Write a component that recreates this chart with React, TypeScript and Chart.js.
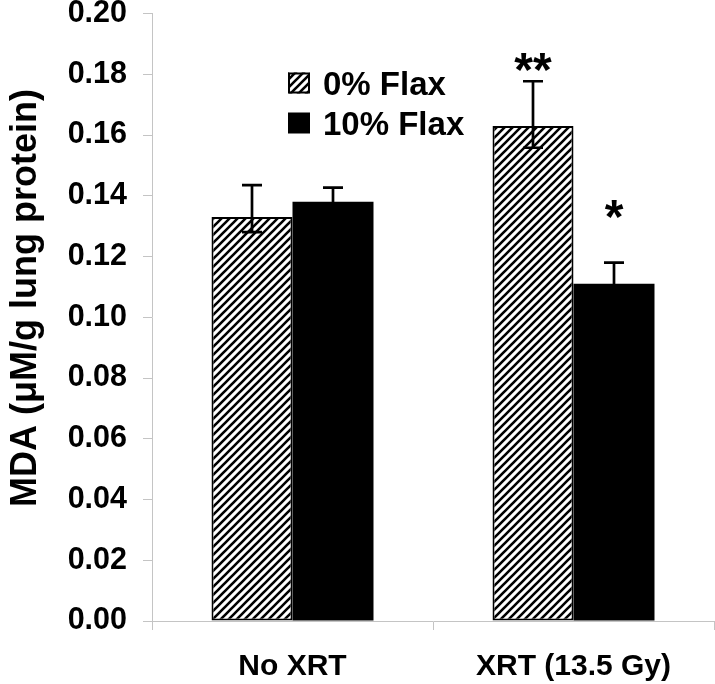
import React, { useEffect, useRef } from "react";
import { Chart, registerables } from "chart.js";

Chart.register(...registerables);

const categories = ["No XRT", "XRT (13.5 Gy)"];
const seriesNames = ["0% Flax", "10% Flax"];
const flax0Values = [0.133, 0.163];
const flax10Values = [0.138, 0.111];
const flax0ErrUp = [0.0105, 0.0147];
const flax0ErrDown = [0.005, 0.0072];
const flax10ErrUp = [0.0047, 0.007];
const flax10ErrDown = [0.0047, 0.007];
const flax0Marks = ["", "**"];
const flax10Marks = ["", "*"];
const flax0MarkAt = [0, 0.184];
const flax10MarkAt = [0, 0.1355];
const yTickValues = [0, 0.02, 0.04, 0.06, 0.08, 0.1, 0.12, 0.14, 0.16, 0.18, 0.2];
const yAxisTitle = "MDA (\u03bcM/g lung protein)";

const FONT = "'Liberation Sans', Arial, sans-serif";
const AXIS_GRAY = "#c4c4c4";

function makeHatch(): CanvasPattern | string {
  const c = document.createElement("canvas");
  const s = 8;
  c.width = s;
  c.height = s;
  const g = c.getContext("2d");
  if (!g) return "#888";
  g.fillStyle = "#fff";
  g.fillRect(0, 0, s, s);
  g.strokeStyle = "#000";
  g.lineWidth = 2.6;
  g.beginPath();
  g.moveTo(-2, s + 2);
  g.lineTo(s + 2, -2);
  g.moveTo(-2, 2);
  g.lineTo(2, -2);
  g.moveTo(s - 2, s + 2);
  g.lineTo(s + 2, s - 2);
  g.stroke();
  return g.createPattern(c, "repeat") || "#888";
}

function drawCenteredText(ctx: CanvasRenderingContext2D, text: string, cx: number, cy: number) {
  const m = ctx.measureText(text);
  const asc = m.actualBoundingBoxAscent;
  const desc = m.actualBoundingBoxDescent;
  ctx.textBaseline = "alphabetic";
  ctx.textAlign = "center";
  ctx.fillText(text, cx, cy + (asc - desc) / 2);
}

export default function App() {
  const ref = useRef<HTMLCanvasElement | null>(null);

  useEffect(() => {
    document.body.style.margin = "0";
    const canvas = ref.current;
    if (!canvas) return;
    const hatch = makeHatch();

    const overlay = {
      id: "overlay",
      afterDatasetsDraw(chart: any) {
        const ctx: CanvasRenderingContext2D = chart.ctx;
        const y = chart.scales.y;
        const sets: [number[], number[], number[], string[], number[]][] = [
          [flax0Values, flax0ErrUp, flax0ErrDown, flax0Marks, flax0MarkAt],
          [flax10Values, flax10ErrUp, flax10ErrDown, flax10Marks, flax10MarkAt],
        ];
        ctx.save();
        ctx.strokeStyle = "#000";
        ctx.fillStyle = "#000";
        ctx.lineWidth = 2.7;
        sets.forEach(([vals, up, down, marks, markAt], di) => {
          const meta = chart.getDatasetMeta(di);
          meta.data.forEach((bar: any, i: number) => {
            const x = bar.x;
            const yTop = y.getPixelForValue(vals[i] + up[i]);
            const yBot = y.getPixelForValue(vals[i] - down[i]);
            ctx.beginPath();
            ctx.moveTo(x, yTop);
            ctx.lineTo(x, yBot);
            ctx.moveTo(x - 10, yTop);
            ctx.lineTo(x + 10, yTop);
            ctx.moveTo(x - 10, yBot);
            ctx.lineTo(x + 10, yBot);
            ctx.stroke();
            if (marks[i]) {
              ctx.font = `bold 48px ${FONT}`;
              drawCenteredText(ctx, marks[i], x, y.getPixelForValue(markAt[i]));
            }
          });
        });
        // legend
        const lx = 288;
        const rows = [83, 123];
        ctx.font = `bold 33px ${FONT}`;
        seriesNames.forEach((name, i) => {
          const cy = rows[i];
          if (i === 0) {
            ctx.fillStyle = hatch as any;
            ctx.fillRect(lx, cy - 10.5, 22, 21);
            ctx.lineWidth = 2;
            ctx.strokeStyle = "#000";
            ctx.strokeRect(lx + 1, cy - 9.5, 20, 19);
          } else {
            ctx.fillStyle = "#000";
            ctx.fillRect(lx, cy - 10.5, 22, 21);
          }
          ctx.fillStyle = "#000";
          const m = ctx.measureText(name);
          ctx.textAlign = "left";
          ctx.textBaseline = "alphabetic";
          ctx.fillText(name, lx + 35, cy + (m.actualBoundingBoxAscent - m.actualBoundingBoxDescent) / 2);
        });
        // y-axis title
        ctx.save();
        ctx.translate(26, 298);
        ctx.rotate(-Math.PI / 2);
        ctx.font = `bold 36px ${FONT}`;
        ctx.fillStyle = "#000";
        ctx.textAlign = "center";
        ctx.textBaseline = "middle";
        ctx.fillText(yAxisTitle, 0, 0);
        ctx.restore();
        ctx.restore();
      },
    };

    const chart = new Chart(canvas, {
      type: "bar",
      data: {
        labels: categories,
        datasets: [
          {
            label: seriesNames[0],
            data: flax0Values,
            backgroundColor: hatch as any,
            borderColor: "#000",
            borderWidth: 2,
            borderSkipped: false,
          },
          {
            label: seriesNames[1],
            data: flax10Values,
            backgroundColor: "#000",
            borderColor: "#000",
            borderWidth: 0,
          },
        ],
      },
      options: {
        responsive: false,
        animation: false,
        events: [],
        layout: { padding: { top: 0, right: 1, bottom: 0, left: 0 } },
        datasets: { bar: { barPercentage: 1, categoryPercentage: 0.5765 } },
        plugins: {
          legend: { display: false },
          tooltip: { enabled: false },
          title: { display: false },
        },
        scales: {
          x: {
            border: { display: true, color: AXIS_GRAY, width: 1 },
            grid: {
              display: true,
              offset: true,
              drawOnChartArea: false,
              drawTicks: true,
              tickLength: 9,
              color: AXIS_GRAY,
            },
            ticks: {
              color: "#000",
              font: { family: FONT, size: 30, weight: "bold" },
              padding: 19,
              maxRotation: 0,
            },
            afterFit: (scale: any) => {
              scale.height = 63;
              scale.paddingLeft = 0;
              scale.paddingRight = 0;
            },
          },
          y: {
            min: 0,
            max: 0.2,
            border: { display: true, color: AXIS_GRAY, width: 1 },
            grid: {
              display: true,
              drawOnChartArea: false,
              drawTicks: true,
              tickLength: 9,
              color: AXIS_GRAY,
            },
            afterBuildTicks: (scale: any) => {
              scale.ticks = yTickValues.map((v) => ({ value: v }));
            },
            ticks: {
              color: "#000",
              font: { family: FONT, size: 30.5, weight: "bold", lineHeight: 0.85 },
              padding: 16,
              callback: (v: any) => Number(v).toFixed(2),
            },
            afterFit: (scale: any) => {
              scale.width = 152;
              scale.paddingTop = 13.5;
              scale.paddingBottom = 0;
            },
          },
        },
      },
      plugins: [overlay],
    });
    return () => chart.destroy();
  }, []);

  return (
    <div style={{ width: 715, height: 684 }}>
      <canvas ref={ref} width={715} height={684} style={{ width: 715, height: 684, display: "block" }} />
    </div>
  );
}
